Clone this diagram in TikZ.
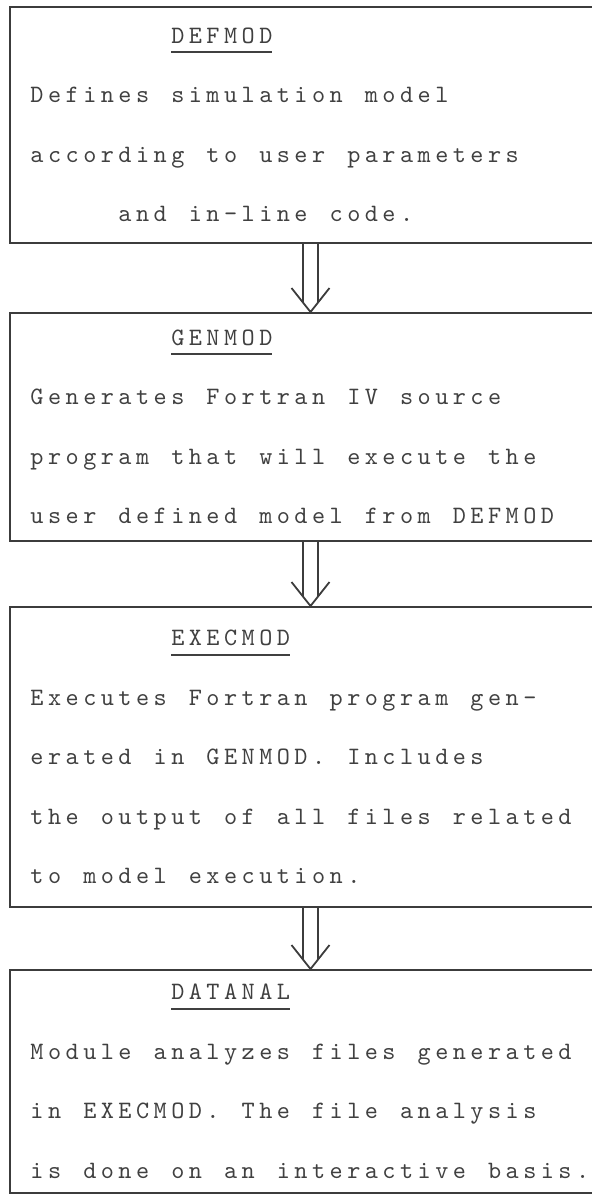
\documentclass[tikz,border=0pt]{standalone}
\usepackage{fontspec}
\newfontfamily\typer{lmmono10-regular.otf}[LetterSpace=17.9]
\usetikzlibrary{decorations.markings}

\definecolor{ink}{HTML}{3C3C3C}
\definecolor{type}{HTML}{404040}

% one typewriter character cell
\newlength{\cell}
\setlength{\cell}{17.6pt}
\newcommand{\typeface}{\typer\fontsize{25pt}{59.5pt}\selectfont}
% typewriter tab: n character cells
\newcommand{\typetab}[1]{\hspace*{#1\cell}}
% underlined module name
\newcommand{\modname}[1]{\setbox0=\hbox{#1}\rlap{\rule[-10pt]{\wd0}{2pt}}\box0}

\begin{document}
\begin{tikzpicture}[x=1pt, y=1pt, node distance=302pt]
\tikzstyle{block} = [draw=ink, line width=2pt, rectangle, text=type, text width=560pt, inner xsep=20.5pt, inner ysep=8pt, align=left, font=\typeface, execute at begin node={\spaceskip=22.07pt\xspaceskip=22.07pt\relax}]
\tikzstyle{line} = [draw=ink, line width=1.8pt, double distance=13pt, shorten >=9pt]
\tikzstyle{head} = [decoration={markings, mark=at position 1 with {\draw[ink, line width=1.8pt] (-24pt,19pt) -- (0pt,0pt) -- (-24pt,-19pt);}}, postaction={decorate}]

\useasboundingbox (0,0) rectangle (592,-1195);

\node [block, minimum height=236pt] (A) at (310.5,-125) {\typetab{8}\modname{DEFMOD}\\ Defines simulation model\\ according to user parameters\\ \typetab{5}and in-line code.};
\node [block, minimum height=228pt, below of=A] (B) {\typetab{8}\modname{GENMOD}\\ Generates Fortran IV source\\ program that will execute the\\ user defined model from DEFMOD};
\node [block, minimum height=300pt, below of=B, yshift=-28pt] (C) {\typetab{8}\modname{EXECMOD}\\ Executes Fortran program gen-\\ erated in GENMOD. Includes\\ the output of all files related\\ to model execution.};
\node [block, minimum height=223pt, below of=C, yshift=-22.5pt] (D) {\typetab{8}\modname{DATANAL}\\ Module analyzes files generated\\ in EXECMOD. The file analysis\\ is done on an interactive basis.};

\path [line] (A) -- (B);
\path [head] (A) -- (B);
\path [line] (B) -- (C);
\path [head] (B) -- (C);
\path [line] (C) -- (D);
\path [head] (C) -- (D);
\end{tikzpicture}
\end{document}
